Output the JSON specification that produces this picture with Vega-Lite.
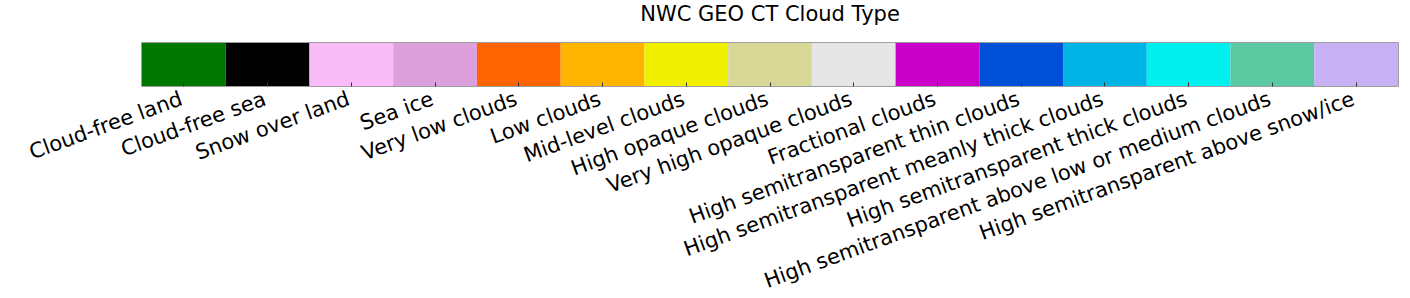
{
  "$schema": "https://vega.github.io/schema/vega-lite/v6.json",
  "width": 1256,
  "height": 43,
  "autosize": "none",
  "padding": {"left": 142, "top": 43, "right": 12, "bottom": 212},
  "background": "white",
  "title": {"text": "NWC GEO CT Cloud Type", "font": "DejaVu Sans", "fontSize": 21, "fontWeight": "normal", "color": "#000000", "anchor": "middle", "baseline": "bottom", "offset": 20, "dy": 23},
  "data": {"values": [
    {"type": "Cloud-free land", "code": 1},
    {"type": "Cloud-free sea", "code": 2},
    {"type": "Snow over land", "code": 3},
    {"type": "Sea ice", "code": 4},
    {"type": "Very low clouds", "code": 5},
    {"type": "Low clouds", "code": 6},
    {"type": "Mid-level clouds", "code": 7},
    {"type": "High opaque clouds", "code": 8},
    {"type": "Very high opaque clouds", "code": 9},
    {"type": "Fractional clouds", "code": 10},
    {"type": "High semitransparent thin clouds", "code": 11},
    {"type": "High semitransparent meanly thick clouds", "code": 12},
    {"type": "High semitransparent thick clouds", "code": 13},
    {"type": "High semitransparent above low or medium clouds", "code": 14},
    {"type": "High semitransparent above snow/ice", "code": 15}
  ]},
  "mark": {"type": "rect"},
  "encoding": {
    "x": {
      "field": "type", "type": "ordinal", "sort": {"field": "code"},
      "scale": {"paddingInner": 0, "paddingOuter": 0},
      "axis": {
        "title": null, "labelAngle": -20, "labelAlign": "right", "labelBaseline": "top",
        "labelFont": "DejaVu Sans", "labelFontSize": 21, "labelColor": "#000000",
        "domain": false, "ticks": true, "tickSize": -4, "tickColor": "#333333",
        "labelPadding": 6, "labelOffset": -6, "labelOverlap": false, "labelLimit": 0,
        "labelBound": false, "labelFlush": false
      }
    },
    "color": {
      "field": "type", "type": "nominal", "legend": null,
      "scale": {
        "domain": ["Cloud-free land", "Cloud-free sea", "Snow over land", "Sea ice", "Very low clouds", "Low clouds", "Mid-level clouds", "High opaque clouds", "Very high opaque clouds", "Fractional clouds", "High semitransparent thin clouds", "High semitransparent meanly thick clouds", "High semitransparent thick clouds", "High semitransparent above low or medium clouds", "High semitransparent above snow/ice"],
        "range": ["#007700", "#000000", "#f9bcf9", "#dca0dc", "#ff6400", "#ffb400", "#f0f000", "#d7d796", "#e6e6e6", "#c800c8", "#0050d7", "#00b4e6", "#00f0f0", "#5ac8a0", "#c8b0f5"]
      }
    }
  },
  "config": {"view": {"stroke": "#808080", "strokeWidth": 1.5}}
}
